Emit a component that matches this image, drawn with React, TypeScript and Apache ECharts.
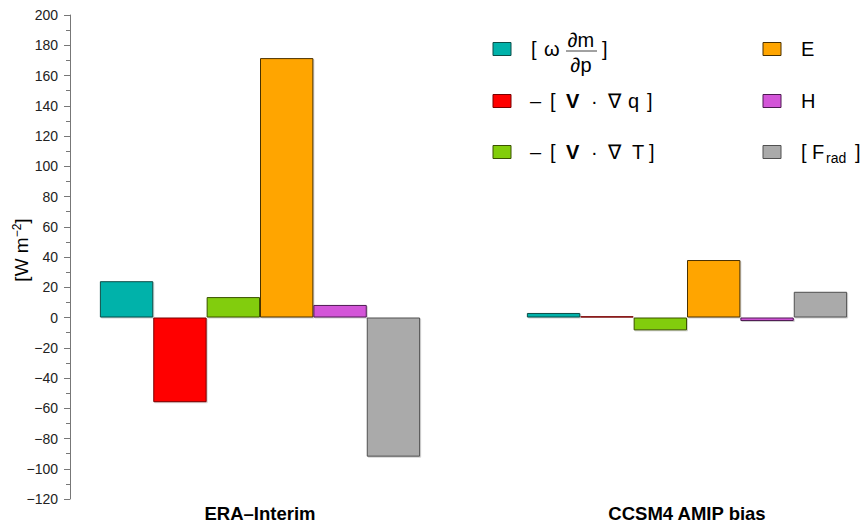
import React, { useEffect, useRef } from "react";
import * as echarts from "echarts";

const categories = ["ERA\u2013Interim", "CCSM4 AMIP bias"];
const seriesNames = ["[ω ∂m/∂p]", "−[V·∇q]", "−[V·∇T]", "E", "H", "[F_rad]"];
const omegaVals = [24, 3];
const moistVals = [-56, 0.8];
const heatVals = [13.5, -8.5];
const evapVals = [171.5, 38];
const sensVals = [8.3, -2.3];
const radVals = [-92, 17];
const fills = ["#00B2AA", "#FF0000", "#82CD0A", "#FFA500", "#D355D8", "#AAAAAA"];
const borders = ["#0B4D48", "#7A0000", "#3A5200", "#4A3000", "#4E1A52", "#505050"];
const yMin = -120;
const yMax = 200;
const yStep = 20;

const FONT = "'Liberation Sans', Arial, Helvetica, sans-serif";

export default function App() {
  const ref = useRef<HTMLDivElement>(null);
  useEffect(() => {
    if (!ref.current) return;
    const chart = echarts.init(ref.current, null, { renderer: "svg" });
    const values = [omegaVals, moistVals, heatVals, evapVals, sensVals, radVals];
    const sq = (x: number, y: number, i: number) => ({
      type: "rect",
      shape: { x, y: y - 6.5, width: 18, height: 13 },
      style: { fill: fills[i], stroke: borders[i], lineWidth: 1 },
    });
    const txt = (x: number, y: number, text: string, extra: any = {}) => ({
      type: "text",
      x,
      y,
      style: {
        text,
        font: `20px ${FONT}`,
        fill: "#000",
        verticalAlign: "middle",
        ...extra,
      },
    });
    const row = (y: number, last: string, lastX: number, closeX: number) => [
      txt(530, y, "\u2013"),
      txt(550, y, "["),
      txt(566, y, "V", { font: `bold 20px ${FONT}` }),
      txt(591, y, "\u00B7"),
      txt(608, y, "\u2207"),
      txt(lastX, y, last),
      txt(closeX, y, "]"),
    ];
    chart.setOption({
      animation: false,
      grid: { left: 260, width: 427, top: 15, height: 484 },
      xAxis: {
        type: "category",
        data: categories,
        boundaryGap: false,
        axisLine: { show: false },
        axisTick: { show: false },
        axisLabel: {
          fontFamily: FONT,
          fontWeight: "bold",
          fontSize: 18.5,
          color: "#000",
          margin: 5,
        },
      },
      yAxis: {
        type: "value",
        min: yMin,
        max: yMax,
        interval: yStep,
        offset: 190,
        axisLine: { show: true, lineStyle: { color: "#777", width: 1 } },
        axisTick: { show: true, length: 6, lineStyle: { color: "#777" } },
        minorTick: { show: true, splitNumber: 2, length: 4, lineStyle: { color: "#777" } },
        splitLine: { show: false },
        axisLabel: {
          fontFamily: FONT,
          fontSize: 14,
          color: "#222",
          margin: 12,
          formatter: (v: number) => String(v).replace("-", "\u2212"),
        },
      },
      series: seriesNames.map((name, i) => ({
        name,
        type: "bar",
        data: values[i],
        clip: false,
        barGap: "0%",
        barCategoryGap: "25%",
        itemStyle: {
          color: fills[i],
          borderColor: borders[i],
          borderWidth: 1,
          shadowColor: "rgba(0,0,0,0.18)",
          shadowOffsetX: 1,
          shadowOffsetY: 1,
          shadowBlur: 0,
        },
      })),
      graphic: [
        {
          type: "text",
          x: 21,
          y: 250,
          rotation: Math.PI / 2,
          style: {
            text: "{n|[W m}{s|\u22122}{n|]}",
            align: "center",
            verticalAlign: "middle",
            rich: {
              n: { font: `19px ${FONT}`, fill: "#000" },
              s: { font: `12px ${FONT}`, fill: "#000", verticalAlign: "top", padding: [0, 0, 9, 0] },
            },
          },
        },
        sq(493, 49, 0),
        sq(493, 101, 1),
        sq(493, 152, 2),
        sq(763, 49, 3),
        sq(763, 101, 4),
        sq(763, 152, 5),
        txt(531, 49, "["),
        txt(544, 49, "\u03C9"),
        txt(581, 40, "\u2202m", { align: "center" }),
        { type: "line", shape: { x1: 566, y1: 51, x2: 597, y2: 51 }, style: { stroke: "#444", lineWidth: 1 } },
        txt(581, 65, "\u2202p", { align: "center" }),
        txt(602, 49, "]"),
        ...row(101, "q", 628, 647),
        ...row(152, "T", 632, 649),
        txt(801, 49, "E"),
        txt(801, 101, "H"),
        txt(801, 152, "["),
        txt(812, 152, "F"),
        txt(826, 158, "rad", { font: `14px ${FONT}` }),
        txt(855, 152, "]"),
      ],
    });
    return () => chart.dispose();
  }, []);
  return (
    <div
      ref={ref}
      style={{ position: "absolute", left: 0, top: 0, width: 864, height: 528, background: "#fff" }}
    />
  );
}
